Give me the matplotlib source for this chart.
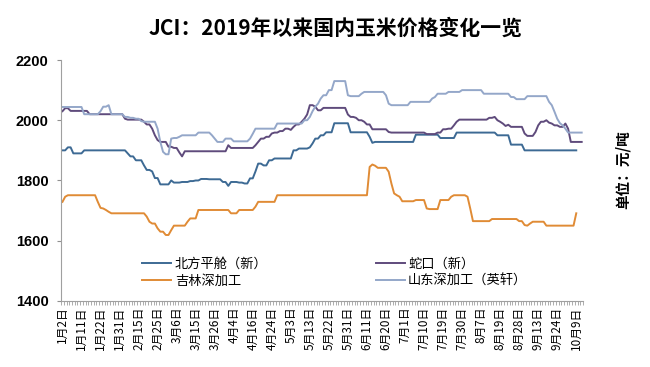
import numpy as np
import matplotlib
matplotlib.use("Agg")
import matplotlib.pyplot as plt
from matplotlib.ticker import FixedLocator

plt.rcParams['font.family'] = ['Noto Sans CJK SC', 'DejaVu Sans']

nan = np.nan

# x轴标签（每7个交易日一个）
date_labels = ['1月2日', '1月11日', '1月22日', '1月31日', '2月15日', '2月25日', '3月6日',
               '3月15日', '3月26日', '4月4日', '4月16日', '4月24日', '5月3日', '5月13日',
               '5月22日', '5月31日', '6月11日', '6月20日', '7月1日', '7月10日', '7月19日',
               '7月30日', '8月7日', '8月19日', '8月28日', '9月13日', '9月24日', '10月9日']

# 北方平舱（新）
beifang = [
    1900, 1900, 1910, 1910, 1890, 1890, 1890, 1890, 1900, 1900, 1900, 1900, 1900, 1900, 1900, 1900,
    1900, 1900, 1900, 1900, 1900, 1900, 1900, 1900, 1890, 1880, 1880, 1867, 1867, 1867, 1850, 1835,
    1835, 1830, 1808, 1808, 1787, 1787, 1787, 1787, 1800, 1793, 1793, 1793, 1795, 1795, 1795, 1798,
    1798, 1800, 1800, 1805, 1805, 1805, 1804, 1804, 1804, 1804, 1804, 1795, 1795, 1782, 1795, 1795,
    1795, 1793, 1793, 1790, 1790, 1807, 1807, 1830, 1856, 1856, 1850, 1850, 1867, 1867, 1873, 1873,
    1873, 1873, 1873, 1873, 1873, 1900, 1900, 1906, 1906, 1906, 1906, 1910, 1923, 1939, 1939, 1950,
    1950, 1960, 1960, 1960, 1990, 1990, 1990, 1990, 1990, 1990, 1960, 1960, 1960, 1960, 1960, 1960,
    1960, 1945, 1925, 1928, 1928, 1928, 1928, 1928, 1928, 1928, 1928, 1928, 1928, 1928, 1928, 1928,
    1928, 1928, 1952, 1952, 1952, 1952, 1952, 1952, 1952, 1952, 1952, 1941, 1941, 1941, 1941, 1941,
    1941, 1959, 1959, 1959, 1959, 1959, 1959, 1959, 1959, 1959, 1959, 1959, 1959, 1959, 1959, 1959,
    1950, 1950, 1950, 1950, 1950, 1919, 1919, 1919, 1919, 1919, 1900, 1900, 1900, 1900, 1900, 1900,
    1900, 1900, 1900, 1900, 1900, 1900, 1900, 1900, 1900, 1900, 1900, 1900, 1900, 1900, nan, nan]

# 蛇口（新）
shekou = [
    2030, 2040, 2040, 2031, 2031, 2031, 2031, 2031, 2031, 2031, 2020, 2020, 2020, 2020, 2020, 2020,
    2020, 2020, 2020, 2020, 2020, 2020, 2020, 2005, 2002, 2002, 2002, 2002, 2002, 2002, 1995, 1986,
    1986, 1972, 1950, 1934, 1928, 1928, 1928, 1912, 1912, 1908, 1908, 1893, 1880, 1897, 1897, 1897,
    1897, 1897, 1897, 1897, 1897, 1897, 1897, 1897, 1897, 1897, 1897, 1897, 1897, 1917, 1908, 1908,
    1908, 1908, 1908, 1908, 1908, 1908, 1908, 1917, 1928, 1939, 1939, 1945, 1945, 1956, 1959, 1959,
    1964, 1964, 1972, 1972, 1968, 1978, 1986, 1986, 1995, 2005, 2019, 2050, 2050, 2045, 2033, 2033,
    2041, 2041, 2041, 2041, 2041, 2041, 2041, 2041, 2041, 2019, 2011, 2011, 2008, 2000, 2000, 1995,
    1986, 1986, 1970, 1970, 1970, 1970, 1970, 1970, 1961, 1959, 1959, 1959, 1959, 1959, 1959, 1959,
    1959, 1959, 1959, 1959, 1959, 1959, 1954, 1954, 1954, 1954, 1959, 1959, 1970, 1970, 1972, 1972,
    1983, 1995, 2002, 2002, 2002, 2002, 2002, 2002, 2002, 2002, 2002, 2002, 2002, 2008, 2008, 2011,
    2000, 1995, 1989, 1981, 1985, 1978, 1978, 1978, 1978, 1978, 1956, 1948, 1948, 1948, 1961, 1983,
    1995, 1995, 2000, 1992, 1989, 1983, 1983, 1978, 1978, 1989, 1972, 1928, 1928, 1928, 1928, 1928]

# 吉林深加工
jilin = [
    1729, 1746, 1751, 1751, 1751, 1751, 1751, 1751, 1751, 1751, 1751, 1751, 1751, 1729, 1709, 1707,
    1702, 1696, 1691, 1691, 1691, 1691, 1691, 1691, 1691, 1691, 1691, 1691, 1691, 1691, 1691, 1680,
    1663, 1657, 1657, 1641, 1630, 1630, 1619, 1619, 1635, 1650, 1650, 1650, 1650, 1650, 1663, 1674,
    1674, 1674, 1702, 1702, 1702, 1702, 1702, 1702, 1702, 1702, 1702, 1702, 1702, 1702, 1691, 1691,
    1691, 1702, 1702, 1702, 1702, 1702, 1702, 1713, 1729, 1729, 1729, 1729, 1729, 1729, 1729, 1751,
    1751, 1751, 1751, 1751, 1751, 1751, 1751, 1751, 1751, 1751, 1751, 1751, 1751, 1751, 1751, 1751,
    1751, 1751, 1751, 1751, 1751, 1751, 1751, 1751, 1751, 1751, 1751, 1751, 1751, 1751, 1751, 1751,
    1751, 1845, 1853, 1849, 1842, 1842, 1842, 1842, 1829, 1790, 1757, 1751, 1746, 1731, 1731, 1731,
    1731, 1731, 1735, 1735, 1735, 1735, 1707, 1705, 1705, 1705, 1705, 1735, 1735, 1735, 1735, 1746,
    1751, 1751, 1751, 1751, 1751, 1746, 1707, 1665, 1665, 1665, 1665, 1665, 1665, 1665, 1672, 1672,
    1672, 1672, 1672, 1672, 1672, 1672, 1672, 1672, 1665, 1665, 1652, 1650, 1657, 1663, 1663, 1663,
    1663, 1663, 1650, 1650, 1650, 1650, 1650, 1650, 1650, 1650, 1650, 1650, 1650, 1691, nan, nan]

# 山东深加工（英轩）
shandong = [
    2044, 2044, 2044, 2044, 2044, 2044, 2044, 2044, 2020, 2020, 2020, 2020, 2020, 2020, 2030, 2045,
    2045, 2050, 2020, 2020, 2020, 2020, 2020, 2011, 2011, 2008, 2008, 2005, 2005, 1997, 1995, 1995,
    1995, 1995, 1995, 1972, 1928, 1895, 1887, 1887, 1939, 1941, 1941, 1945, 1950, 1950, 1950, 1950,
    1950, 1950, 1959, 1959, 1959, 1959, 1959, 1950, 1939, 1928, 1928, 1928, 1939, 1939, 1939, 1930,
    1930, 1930, 1930, 1930, 1930, 1939, 1955, 1972, 1972, 1972, 1972, 1972, 1972, 1972, 1972, 1989,
    1989, 1989, 1989, 1989, 1989, 1989, 1989, 1989, 1989, 2000, 2000, 2011, 2030, 2045, 2055, 2072,
    2083, 2083, 2100, 2100, 2130, 2130, 2130, 2130, 2130, 2083, 2080, 2080, 2080, 2080, 2088, 2094,
    2094, 2094, 2094, 2094, 2094, 2094, 2094, 2083, 2055, 2050, 2050, 2050, 2050, 2050, 2050, 2050,
    2061, 2061, 2061, 2061, 2061, 2061, 2061, 2061, 2072, 2077, 2088, 2088, 2088, 2088, 2094, 2094,
    2094, 2094, 2094, 2100, 2100, 2100, 2100, 2100, 2100, 2100, 2100, 2088, 2088, 2088, 2088, 2088,
    2088, 2088, 2088, 2088, 2088, 2077, 2077, 2070, 2070, 2070, 2070, 2080, 2080, 2080, 2080, 2080,
    2080, 2080, 2080, 2061, 2050, 2028, 2005, 1990, 1983, 1972, 1959, 1959, 1959, 1959, 1959, 1959]

x = np.arange(len(shekou))

fig = plt.figure(figsize=(6.5, 3.67), dpi=100)
ax = fig.add_axes([0.094, 0.18, 0.803, 0.6565])

ax.plot(x, beifang, color='#3d6a94', lw=1.4, label='北方平舱（新）')
ax.plot(x, jilin, color='#e08b35', lw=1.4, label='吉林深加工')
ax.plot(x, shekou, color='#5f4b7c', lw=1.4, label='蛇口（新）')
ax.plot(x, shandong, color='#94a7c9', lw=1.4, label='山东深加工（英轩）')

ax.set_ylim(1400, 2200)
ax.set_xlim(-0.5, len(x) - 0.5)
ax.set_yticks([1400, 1600, 1800, 2000, 2200])
for lab in ax.get_yticklabels():
    lab.set_family(['Liberation Sans', 'DejaVu Sans'])
    lab.set_fontweight('bold')
    lab.set_fontsize(10.5)

ax.set_xticks(np.arange(0, len(x), 7))
ax.set_xticklabels(date_labels, rotation=90, fontsize=8.5)
ax.xaxis.set_minor_locator(FixedLocator(np.arange(-0.5, len(x), 1)))
ax.tick_params(axis='x', which='major', length=0, pad=4)
ax.tick_params(axis='x', which='minor', length=3, width=0.6, color='#a0a0a0')
ax.tick_params(axis='y', length=3, width=0.8, color='#909090', pad=6)

for s in ['top', 'right']:
    ax.spines[s].set_visible(False)
for s in ['left', 'bottom']:
    ax.spines[s].set_color('#a0a0a0')
    ax.spines[s].set_linewidth(0.8)

leg = ax.legend(ncol=2, frameon=False, fontsize=9.5, loc='upper left',
                bbox_to_anchor=(0.133, 0.23), handlelength=2.2, handletextpad=0.25,
                columnspacing=8.2, labelspacing=0.35)

fig.text(0.517, 0.924, 'JCI：2019年以来国内玉米价格变化一览', ha='center', va='center',
         fontsize=15, fontweight='bold')
fig.text(0.958, 0.537, '单位：元/吨', rotation=90, ha='center', va='center',
         fontsize=10.5, fontweight='bold')

fig.savefig('out.png', dpi=100)
